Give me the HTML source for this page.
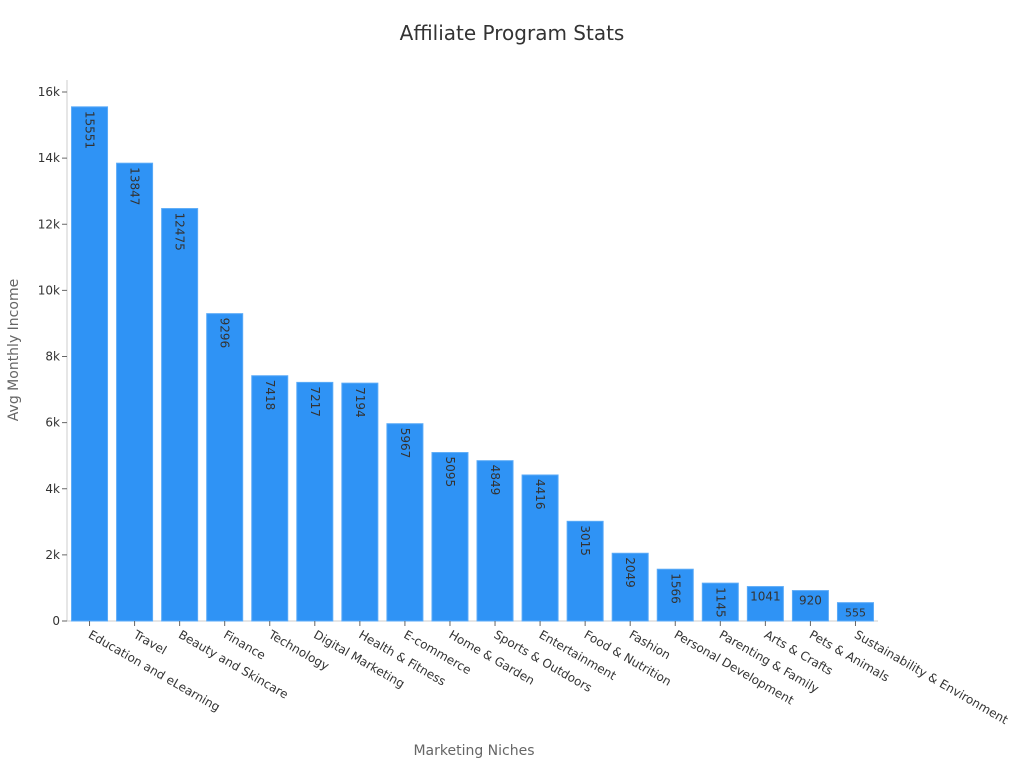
<!DOCTYPE html>
<html><head><meta charset="utf-8"><style>
body{margin:0;background:#fff;font-family:"Liberation Sans","DejaVu Sans",sans-serif}
svg text{font-family:"DejaVu Sans","Liberation Sans",sans-serif}
</style></head><body>
<svg id="chart" width="1024" height="768">
<text x="512" y="40" text-anchor="middle" font-size="20" fill="#333">Affiliate Program Stats</text>
<text x="474" y="755" text-anchor="middle" font-size="14" fill="#666">Marketing Niches</text>
<text transform="translate(18,350) rotate(-90)" text-anchor="middle" font-size="14" fill="#666">Avg Monthly Income</text>
<g id="plot"></g>
</svg>
<script>
const categories=["Education and eLearning","Travel","Beauty and Skincare","Finance","Technology","Digital Marketing","Health & Fitness","E-commerce","Home & Garden","Sports & Outdoors","Entertainment","Food & Nutrition","Fashion","Personal Development","Parenting & Family","Arts & Crafts","Pets & Animals","Sustainability & Environment"];
const values=[15551,13847,12475,9296,7418,7217,7194,5967,5095,4849,4416,3015,2049,1566,1145,1041,920,555];
const yTicks=[0,2000,4000,6000,8000,10000,12000,14000,16000];
const yTickLabels=["0","2k","4k","6k","8k","10k","12k","14k","16k"];
const NS="http://www.w3.org/2000/svg";
const g=document.getElementById('plot');
const x0=67,x1=878,y0=621,yTop=80,yMax=16000,y16=92;
const y=v=>y0-(v/yMax)*(y0-y16);
const band=(x1-x0)/categories.length;
const xc=i=>x0+band*(i+0.5);
const bw=36;
function mk(t,a){const e=document.createElementNS(NS,t);for(const k in a)e.setAttribute(k,a[k]);g.appendChild(e);return e;}
let ax=mk('line',{x1:x0,y1:yTop,x2:x0,y2:y0,stroke:'#ccc'});


let bx=mk('line',{x1:x0,y1:y0,x2:x1,y2:y0,stroke:'#ccc'});


yTicks.forEach((v,i)=>{
 const tk=mk('line',{x1:x0-5,x2:x0,y1:y(v),y2:y(v),stroke:'#666'});
 
 
 const t=mk('text',{x:x0-7,y:y(v)+4,'text-anchor':'end','font-size':12,fill:'#333'});
 t.textContent=yTickLabels[i];
 
 
});
categories.forEach((c,i)=>{
 const v=values[i],cx=xc(i),top=y(v),h=y0-top;
 const r=mk('rect',{x:cx-bw/2,y:top,width:bw,height:h,fill:'#2f93f5',stroke:'#5aaaf7','stroke-width':1});
 
 
 let lt;
 if(h>=36){
  lt=mk('text',{transform:`translate(${cx-4},${top+4}) rotate(90)`,'font-size':12,fill:'#333'});
 } else {
  lt=mk('text',{x:cx,y:top+14,'text-anchor':'middle','font-size':v<700?11:12,fill:'#333'});
 }
 lt.textContent=v;
 
 
 const tk=mk('line',{x1:cx,x2:cx,y1:y0,y2:y0+5,stroke:'#666'});
 
 
 const t=mk('text',{transform:`translate(${cx-2},${y0+16}) rotate(30)`,'font-size':12,fill:'#333'});
 t.textContent=c;
 
 
});
</script>
</body></html>
